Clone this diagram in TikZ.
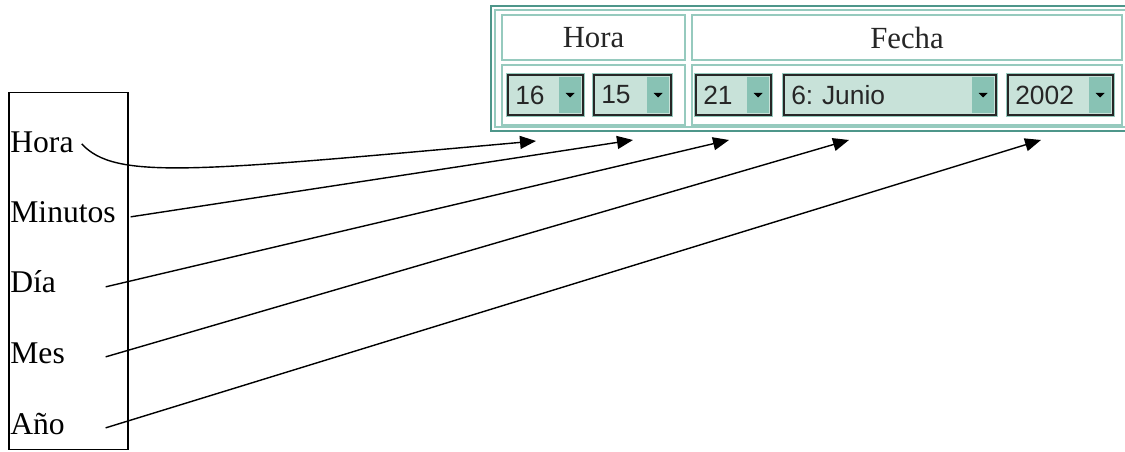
\documentclass[tikz,border=0pt]{standalone}
\usepackage{fontspec}
\setmainfont{Liberation Serif}
\setsansfont{Liberation Sans}
\usetikzlibrary{arrows.meta,positioning}
\definecolor{fmteal}{RGB}{78,150,138}
\definecolor{fmteallight}{RGB}{150,202,190}
\definecolor{fmfield}{RGB}{200,226,217}
\definecolor{fmbutton}{RGB}{136,194,180}
\frenchspacing

\begin{document}
\begin{tikzpicture}[x=0.02cm, y=-0.02cm,
  campo/.style={anchor=base west, inner sep=0pt, text width=1.9cm, align=left,
               text height=0.7em, text depth=0pt, font=\fontsize{18}{20}\selectfont},
  celda/.style={draw=fmteallight, line width=1.1pt, fill=white, inner sep=0pt,
               font=\fontsize{17.5}{20}\selectfont, text=black!85},
  combo/.style={draw=black!85, line width=0.9pt, fill=fmfield, anchor=west,
               preaction={draw=fmteallight, line width=2.6pt},
               minimum height=0.8cm, inner xsep=0.15cm, inner ysep=0pt, align=left,
               font=\sffamily\fontsize{15}{18}\selectfont, text=black!85},
  boton/.style={fill=fmbutton, anchor=east, minimum width=0.44cm, minimum height=0.72cm,
               inner sep=0pt,
               path picture={\fill[black] ([xshift=-0.09cm,yshift=0.04cm]path picture bounding box.center)
                 -- ++(0.18cm,0) -- ++(-0.09cm,-0.09cm) -- cycle;}},
  arr/.style={-{Triangle[length=0.32cm,width=0.26cm]}, line width=0.8pt, black}]
\path[use as bounding box, clip] (0,0) rectangle (1125,452);

% form panel
\draw[fmteal, line width=1.4pt] (491,6) rectangle (1140,131);
\draw[fmteallight, line width=1.1pt] (495,10) rectangle (1140,127);
\node[celda, minimum width=3.66cm, minimum height=0.9cm] (cHora) at (593.5,37.5) {Hora};
\node[celda, minimum width=8.6cm, minimum height=0.9cm] (cFecha) at (907,37.5) {Fecha};
\node[celda, minimum width=3.66cm, minimum height=1.2cm] (rHora) at (593.5,95) {};
\node[celda, minimum width=8.6cm, minimum height=1.2cm] (rFecha) at (907,95) {};

\node[combo, text width=1.2cm] (dd16) at (507,95) {16};
\node[combo, text width=1.24cm] (dd15) at (593,95) {15};
\node[combo, text width=1.2cm] (dd21) at (695,95) {21};
\node[combo, text width=3.94cm] (ddMes) at (783,95) {6: Junio};
\node[combo, text width=1.8cm] (ddAnio) at (1007,95) {2002};
\node[boton] (b16) at ([xshift=-0.04cm]dd16.east) {};
\node[boton] (b15) at ([xshift=-0.04cm]dd15.east) {};
\node[boton] (b21) at ([xshift=-0.04cm]dd21.east) {};
\node[boton] (bMes) at ([xshift=-0.04cm]ddMes.east) {};
\node[boton] (bAnio) at ([xshift=-0.04cm]ddAnio.east) {};

% field list
\node[draw, line width=0.6pt, minimum width=2.38cm, minimum height=7.16cm] (lista) at (68.5,271) {};
\node[campo] (hora) at (10,153) {Hora};
\node[campo] (minutos) at (10,223) {Minutos};
\node[campo] (dia) at (10,293) {Día};
\node[campo] (mes) at (10,363) {Mes};
\node[campo] (anio) at (10,434) {Año};

\coordinate (t16) at (536,141);
\coordinate (t15) at (633,140);
\coordinate (t21) at (729,140);
\coordinate (tMes) at (849,140);
\coordinate (tAnio) at (1041,140);

\draw[arr] ([xshift=-0.48cm,yshift=0.06cm]hora.east) .. controls (115,180) and (190,172) .. (t16);
\draw[arr] ([xshift=0.5cm]minutos.east) -- (t15);
\draw[arr] (dia.east) -- (t21);
\draw[arr] (mes.east) -- (tMes);
\draw[arr] (anio.east) -- (tAnio);
\end{tikzpicture}
\end{document}
